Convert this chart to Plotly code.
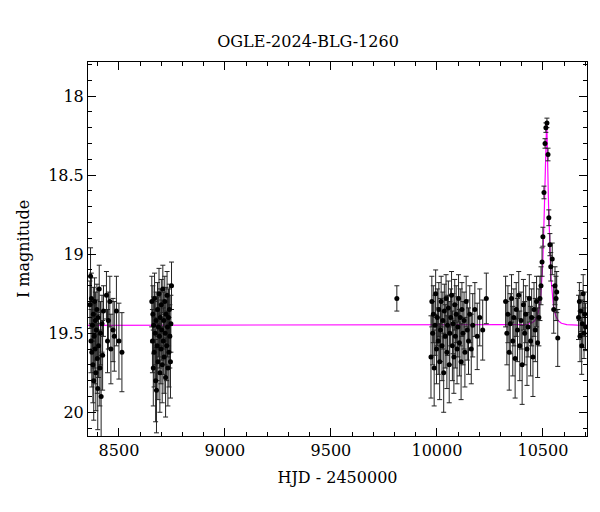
import numpy as np
import plotly.graph_objects as go

# season 1
t1 = [8363, 8366, 8368, 8370, 8372, 8375, 8377, 8379, 8381, 8383, 8385, 8387, 8389, 8391, 8393, 8396,
      8398, 8400, 8402, 8404, 8407, 8410, 8413, 8416, 8420, 8423, 8427, 8441, 8446, 8450, 8457, 8462,
      8472, 8478, 8488, 8500, 8514]
m1 = [19.32, 19.14, 19.55, 19.28, 19.62, 19.45, 19.70, 19.38, 19.80, 19.52, 19.30, 19.60, 19.42, 19.75,
      19.48, 19.35, 19.66, 19.85, 19.40, 19.58, 19.22, 19.72, 19.50, 19.90, 19.44, 19.64, 19.36, 19.26,
      19.55, 19.42, 19.30, 19.60, 19.48, 19.52, 19.36, 19.55, 19.62]
e1 = [0.15, 0.18, 0.20, 0.16, 0.22, 0.15, 0.24, 0.17, 0.25, 0.20, 0.15, 0.22, 0.18, 0.24, 0.19, 0.16,
      0.22, 0.26, 0.18, 0.20, 0.15, 0.24, 0.20, 0.26, 0.18, 0.22, 0.16, 0.15, 0.20, 0.18, 0.16, 0.22,
      0.20, 0.22, 0.22, 0.24, 0.25]

# season 2
t2 = [8655, 8658, 8660, 8662, 8664, 8666, 8668, 8671, 8673, 8675, 8677, 8680, 8682, 8684, 8686, 8689,
      8691, 8693, 8695, 8698, 8700, 8702, 8704, 8707, 8709, 8711, 8713, 8716, 8718, 8720, 8722, 8725,
      8727, 8729, 8731, 8734, 8736, 8738, 8740, 8743, 8745, 8748]
m2 = [19.30, 19.55, 19.38, 19.72, 19.45, 19.62, 19.28, 19.50, 19.80, 19.42, 19.86, 19.58, 19.35, 19.68,
      19.46, 19.25, 19.52, 19.75, 19.40, 19.60, 19.32, 19.48, 19.70, 19.22, 19.55, 19.42, 19.65, 19.30,
      19.50, 19.78, 19.38, 19.58, 19.26, 19.46, 19.72, 19.40, 19.62, 19.35, 19.52, 19.68, 19.44, 19.20]
e2 = [0.16, 0.20, 0.18, 0.24, 0.18, 0.22, 0.16, 0.20, 0.26, 0.18, 0.27, 0.22, 0.17, 0.24, 0.19, 0.16,
      0.20, 0.25, 0.18, 0.22, 0.16, 0.19, 0.24, 0.15, 0.21, 0.18, 0.23, 0.16, 0.20, 0.25, 0.17, 0.22,
      0.15, 0.19, 0.24, 0.18, 0.22, 0.16, 0.20, 0.23, 0.18, 0.15]

# single point
t3 = [9811]
m3 = [19.28]
e3 = [0.08]

# season 3
t4 = [9972, 9976, 9980, 9983, 9987, 9991, 9994, 9998, 10002, 10006, 10009, 10013, 10017, 10020,
      10024, 10028, 10032, 10035, 10039, 10043, 10047, 10050, 10054, 10058, 10061, 10065, 10069, 10073,
      10076, 10080, 10084, 10087, 10091, 10095, 10099, 10102, 10106, 10110, 10114, 10118, 10123, 10128,
      10132, 10138, 10143, 10149, 10155, 10162, 10169, 10179, 10190, 10202, 10216, 10233]
m4 = [19.65, 19.30, 19.50, 19.38, 19.72, 19.45, 19.25, 19.60, 19.40, 19.55, 19.35, 19.68, 19.48, 19.30,
      19.58, 19.42, 19.75, 19.36, 19.52, 19.28, 19.62, 19.45, 19.34, 19.70, 19.50, 19.40, 19.26, 19.58,
      19.44, 19.65, 19.32, 19.52, 19.38, 19.60, 19.46, 19.28, 19.56, 19.40, 19.68, 19.35, 19.50, 19.42,
      19.62, 19.30, 19.48, 19.55, 19.38, 19.60, 19.45, 19.35, 19.52, 19.40, 19.48, 19.28]
e4 = [0.26, 0.16, 0.20, 0.18, 0.24, 0.19, 0.15, 0.22, 0.18, 0.21, 0.17, 0.24, 0.20, 0.16, 0.22, 0.18,
      0.25, 0.17, 0.20, 0.15, 0.23, 0.19, 0.17, 0.24, 0.20, 0.18, 0.15, 0.22, 0.19, 0.23, 0.16, 0.20,
      0.18, 0.22, 0.19, 0.15, 0.21, 0.18, 0.24, 0.17, 0.20, 0.18, 0.22, 0.16, 0.19, 0.21, 0.18, 0.22,
      0.20, 0.17, 0.21, 0.18, 0.19, 0.16]

# season 4 (with event)
t5 = [10324, 10330, 10335, 10341, 10346, 10352, 10358, 10363, 10369, 10374, 10380, 10386, 10391, 10397,
      10402, 10408, 10414, 10419, 10425, 10430, 10436, 10442, 10447, 10453, 10458, 10464, 10470, 10475,
      10481, 10486, 10491, 10496, 10500, 10505, 10510, 10514, 10519, 10524, 10528, 10533, 10537, 10544,
      10551, 10557, 10562, 10565, 10570]
m5 = [19.30, 19.50, 19.38, 19.62, 19.44, 19.28, 19.55, 19.40, 19.66, 19.35, 19.48, 19.26, 19.58, 19.42,
      19.70, 19.32, 19.50, 19.38, 19.60, 19.46, 19.28, 19.55, 19.40, 19.65, 19.35, 19.48, 19.30, 19.56,
      19.40, 19.28, 19.20, 19.05, 18.89, 18.61, 18.30, 18.20, 18.17, 18.37, 18.77, 18.94, 19.08, 19.03,
      19.35, 19.20, 19.28, 19.24, 19.53]
e5 = [0.16, 0.20, 0.18, 0.24, 0.19, 0.15, 0.22, 0.18, 0.25, 0.17, 0.20, 0.15, 0.22, 0.18, 0.25, 0.16,
      0.20, 0.18, 0.23, 0.19, 0.15, 0.22, 0.18, 0.25, 0.17, 0.20, 0.16, 0.22, 0.18, 0.14, 0.12, 0.09,
      0.06, 0.04, 0.03, 0.03, 0.03, 0.04, 0.05, 0.07, 0.09, 0.10, 0.15, 0.12, 0.14, 0.13, 0.18]

# season 5
t6 = [10668, 10672, 10675, 10679, 10683, 10686, 10690, 10694, 10697, 10701]
m6 = [19.40, 19.30, 19.52, 19.36, 19.58, 19.44, 19.25, 19.50, 19.38, 19.46]
e6 = [0.14, 0.12, 0.16, 0.13, 0.18, 0.15, 0.12, 0.16, 0.14, 0.15]

# Paczynski model parameters
t0, tE, u0, base = 10517.0, 21.5, 0.32, 19.45

t = t1 + t2 + t3 + t4 + t5 + t6
m = m1 + m2 + m3 + m4 + m5 + m6
e = e1 + e2 + e3 + e4 + e5 + e6

tm = np.linspace(8354, 10708, 3000)
u = np.sqrt(u0**2 + ((tm - t0) / tE)**2)
amp = (u**2 + 2) / (u * np.sqrt(u**2 + 4))
mm = base - 2.5 * np.log10(amp)

fig = go.Figure()
fig.add_trace(go.Scatter(x=tm, y=mm, mode='lines', line=dict(color='#ff00ff', width=1.2),
                         hoverinfo='skip'))
fig.add_trace(go.Scatter(x=t, y=m, mode='markers',
                         marker=dict(color='black', size=5),
                         error_y=dict(type='data', array=e, color='#222222', thickness=1, width=2.5)))

font = "DejaVu Serif"
ax = dict(showline=True, mirror='ticks', linecolor='black', linewidth=1, ticks='inside',
          ticklen=8, tickcolor='black', showgrid=False, zeroline=False,
          minor=dict(ticks='inside', ticklen=4, tickcolor='black'),
          tickfont=dict(family=font, size=16, color='black'))
fig.update_layout(
    width=600, height=512, showlegend=False,
    plot_bgcolor='white', paper_bgcolor='white',
    margin=dict(l=80, r=21, t=54, b=84),
    title=dict(text='OGLE-2024-BLG-1260', x=0.5, xanchor='center', y=0.945,
               font=dict(family=font, size=16, color='black')),
    xaxis=dict(ax, range=[8354, 10708], dtick=500, tickformat='d',
               minor=dict(ax['minor'], dtick=100),
               title=dict(text='HJD - 2450000', standoff=12,
                          font=dict(family=font, size=16, color='black'))),
    yaxis=dict(ax, range=[20.15, 17.785], dtick=0.5, minor=dict(ax['minor'], dtick=0.1),
               title=dict(text='I magnitude', standoff=14,
                          font=dict(family=font, size=16, color='black'))),
)
fig.write_html("out.html")
